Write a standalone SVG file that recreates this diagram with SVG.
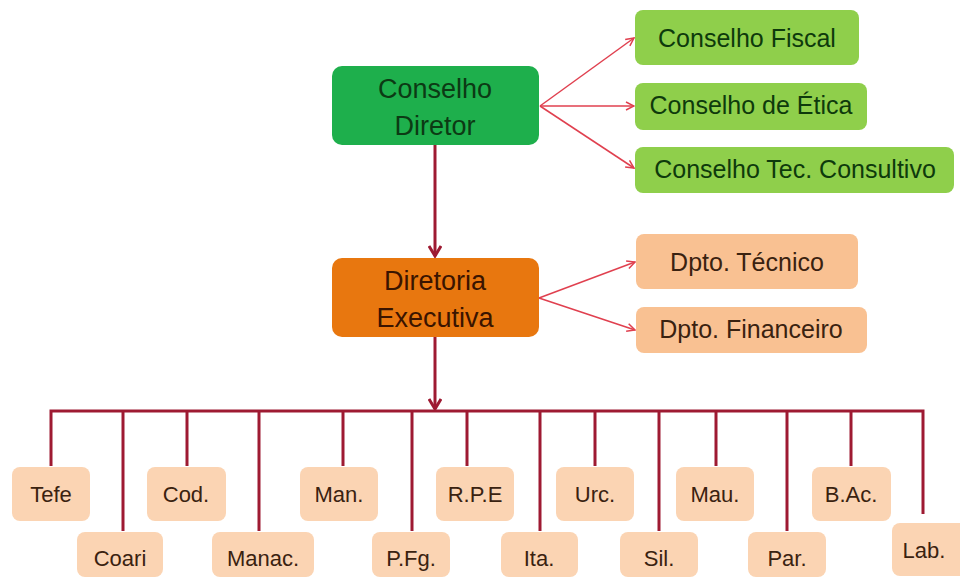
<svg xmlns="http://www.w3.org/2000/svg" width="960" height="578" viewBox="0 0 960 578">
<defs>
<style>
text{font-family:"Liberation Sans",Arial,sans-serif;text-anchor:middle}
.main{font-size:27px}
.side{font-size:25px}
.small{font-size:22px}
.dg{fill:#1eaf4c}
.lg{fill:#8fcf4b}
.or{fill:#e8770f}
.pe{fill:#f9c192}
.sm{fill:#fbd4b3}
.tdg{fill:#0c3a14}
.tlg{fill:#0e3a0c}
.tor{fill:#3a1400}
.tbr{fill:#3a2210}
.thick{stroke:#9e1a32;stroke-width:3;fill:none}
.thin{stroke:#e0404f;stroke-width:1.5;fill:none}
</style>
<marker id="ah" viewBox="0 0 10 10" refX="9" refY="5" markerWidth="10" markerHeight="10" markerUnits="userSpaceOnUse" orient="auto">
<path d="M1,1 L9,5 L1,9" fill="none" stroke="#e0404f" stroke-width="1.5"/>
</marker>
<marker id="ahd" viewBox="0 0 14 14" refX="12" refY="7" markerWidth="14" markerHeight="14" markerUnits="userSpaceOnUse" orient="auto">
<path d="M2,1 L12,7 L2,13" fill="none" stroke="#9e1a32" stroke-width="3"/>
</marker>
</defs>
<rect width="960" height="578" fill="#ffffff"/>
<g id="connectors">
<line class="thick" x1="435" y1="145" x2="435" y2="256" marker-end="url(#ahd)"/>
<line class="thick" x1="435" y1="337" x2="435" y2="409" marker-end="url(#ahd)"/>
<line class="thin" x1="540" y1="106" x2="634" y2="38" marker-end="url(#ah)"/>
<line class="thin" x1="540" y1="106" x2="634" y2="106" marker-end="url(#ah)"/>
<line class="thin" x1="540" y1="106" x2="634" y2="168" marker-end="url(#ah)"/>
<line class="thin" x1="539" y1="298" x2="635" y2="262" marker-end="url(#ah)"/>
<line class="thin" x1="539" y1="298" x2="635" y2="330" marker-end="url(#ah)"/>
<path class="thick" d="M51,466 V411 H923 V514"/>
<path class="thick" d="M123,411 V531 M187,411 V466 M259,411 V531 M343,411 V466 M412,411 V531 M467,411 V466 M540,411 V531 M595,411 V466 M659,411 V531 M716,411 V466 M787,411 V531 M851,411 V466"/>
</g>
<g id="conselho-diretor"><rect class="dg" x="332" y="66" width="207" height="79" rx="10"/><text class="main tdg" x="435" y="98">Conselho</text><text class="main tdg" x="435" y="135">Diretor</text></g>
<g id="diretoria-executiva"><rect class="or" x="332" y="258" width="207" height="79" rx="10"/><text class="main tor" x="435" y="290">Diretoria</text><text class="main tor" x="435" y="327">Executiva</text></g>
<g id="conselho-fiscal"><rect class="lg" x="635" y="10" width="224" height="55" rx="8"/><text class="side tlg" x="747" y="47">Conselho Fiscal</text></g>
<g id="conselho-etica"><rect class="lg" x="635" y="83" width="232" height="47" rx="8"/><text class="side tlg" x="751" y="114">Conselho de Ética</text></g>
<g id="conselho-tec"><rect class="lg" x="635" y="147" width="319" height="46" rx="8"/><text class="side tlg" x="795" y="178">Conselho Tec. Consultivo</text></g>
<g id="dpto-tecnico"><rect class="pe" x="636" y="234" width="222" height="55" rx="8"/><text class="side tbr" x="747" y="271">Dpto. Técnico</text></g>
<g id="dpto-financeiro"><rect class="pe" x="636" y="307" width="231" height="46" rx="8"/><text class="side tbr" x="751" y="338">Dpto. Financeiro</text></g>
<g id="tefe"><rect class="sm" x="12" y="467" width="78" height="54" rx="8"/><text class="small tbr" x="51" y="502">Tefe</text></g>
<g id="coari"><rect class="sm" x="77" y="532" width="86" height="45" rx="8"/><text class="small tbr" x="120" y="566">Coari</text></g>
<g id="cod"><rect class="sm" x="147" y="467" width="79" height="54" rx="8"/><text class="small tbr" x="186" y="502">Cod.</text></g>
<g id="manac"><rect class="sm" x="212" y="532" width="102" height="45" rx="8"/><text class="small tbr" x="263" y="566">Manac.</text></g>
<g id="man"><rect class="sm" x="300" y="467" width="78" height="54" rx="8"/><text class="small tbr" x="339" y="502">Man.</text></g>
<g id="pfg"><rect class="sm" x="372" y="532" width="78" height="45" rx="8"/><text class="small tbr" x="411" y="566">P.Fg.</text></g>
<g id="rpe"><rect class="sm" x="436" y="467" width="78" height="54" rx="8"/><text class="small tbr" x="475" y="502">R.P.E</text></g>
<g id="ita"><rect class="sm" x="501" y="532" width="77" height="45" rx="8"/><text class="small tbr" x="539" y="566">Ita.</text></g>
<g id="urc"><rect class="sm" x="556" y="467" width="78" height="54" rx="8"/><text class="small tbr" x="595" y="502">Urc.</text></g>
<g id="sil"><rect class="sm" x="620" y="532" width="78" height="45" rx="8"/><text class="small tbr" x="659" y="566">Sil.</text></g>
<g id="mau"><rect class="sm" x="676" y="467" width="78" height="54" rx="8"/><text class="small tbr" x="715" y="502">Mau.</text></g>
<g id="par"><rect class="sm" x="748" y="532" width="78" height="45" rx="8"/><text class="small tbr" x="787" y="566">Par.</text></g>
<g id="bac"><rect class="sm" x="812" y="467" width="79" height="54" rx="8"/><text class="small tbr" x="851" y="502">B.Ac.</text></g>
<g id="lab"><rect class="sm" x="892" y="523" width="76" height="53" rx="8"/><text class="small tbr" x="924" y="558">Lab.</text></g>
</svg>
